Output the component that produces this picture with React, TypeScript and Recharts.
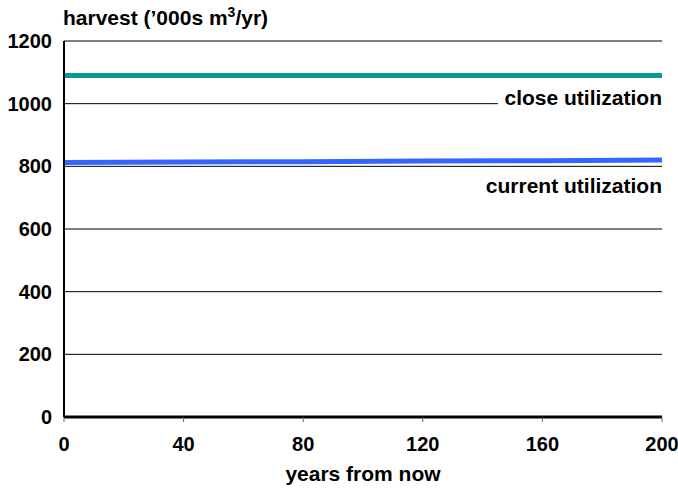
import React from "react";
import { LineChart, Line, XAxis, YAxis, CartesianGrid, LabelList } from "recharts";

const years = [0, 40, 80, 120, 160, 200];
const closeUtilization = [1090, 1090, 1090, 1090, 1090, 1090];
const currentUtilization = [812, 814, 815, 817, 818, 820];
const yTicks = [0, 200, 400, 600, 800, 1000, 1200];
const xTicks = [0, 40, 80, 120, 160, 200];

const data = years.map((y, i) => ({ year: y, close: closeUtilization[i], current: currentUtilization[i] }));

const FONT = "Arial, 'Liberation Sans', sans-serif";

const makeLabel = (text: string, dy: number) => (props: any) => {
  const { x, y, index } = props;
  if (index !== years.length - 1) return null;
  const w = 164;
  return (
    <g>
      <rect x={x - w} y={y + dy - 17} width={w} height={22} fill="#ffffff" />
      <text x={x} y={y + dy} textAnchor="end" fontFamily={FONT} fontWeight="bold" fontSize={21} fill="#000">
        {text}
      </text>
    </g>
  );
};

export default function App() {
  return (
    <div style={{ position: "absolute", left: 0, top: 0, width: 678, height: 490, background: "#fff" }}>
      <div
        style={{
          position: "absolute",
          left: 63,
          top: 7,
          fontFamily: FONT,
          fontWeight: "bold",
          fontSize: 21,
          lineHeight: "21px",
          color: "#000",
          whiteSpace: "nowrap",
        }}
      >
        harvest (’000s m<sup style={{ fontSize: 14, lineHeight: 0 }}>3</sup>/yr)
      </div>
      <LineChart width={678} height={490} data={data} margin={{ top: 41, right: 16, left: 10, bottom: 43 }}>
        <CartesianGrid vertical={false} stroke="#000" strokeWidth={1} />
        <XAxis
          dataKey="year"
          type="number"
          domain={[0, 200]}
          ticks={xTicks}
          axisLine={{ stroke: "#000", strokeWidth: 3 }}
          tickLine={{ stroke: "#666", strokeWidth: 1 }}
          tickSize={5}
          tickMargin={15}
          height={30}
          tick={{ fontFamily: FONT, fontWeight: "bold", fontSize: 20, fill: "#000" }}
          label={{ value: "years from now", position: "insideBottom", offset: -34, fontFamily: FONT, fontWeight: "bold", fontSize: 21, fill: "#000" }}
        />
        <YAxis
          type="number"
          domain={[0, 1200]}
          ticks={yTicks}
          width={54}
          axisLine={{ stroke: "#000", strokeWidth: 2 }}
          tickLine={false}
          tickSize={6}
          tickMargin={6}
          tick={{ fontFamily: FONT, fontWeight: "bold", fontSize: 20, fill: "#000" }}
        />
        <Line dataKey="close" stroke="#0a9a96" strokeWidth={5} dot={false} isAnimationActive={false}>
          <LabelList dataKey="close" content={makeLabel("close utilization", 30)} />
        </Line>
        <Line dataKey="current" stroke="#3366ff" strokeWidth={5} dot={false} isAnimationActive={false}>
          <LabelList dataKey="current" content={makeLabel("current utilization", 33)} />
        </Line>
      </LineChart>
    </div>
  );
}
